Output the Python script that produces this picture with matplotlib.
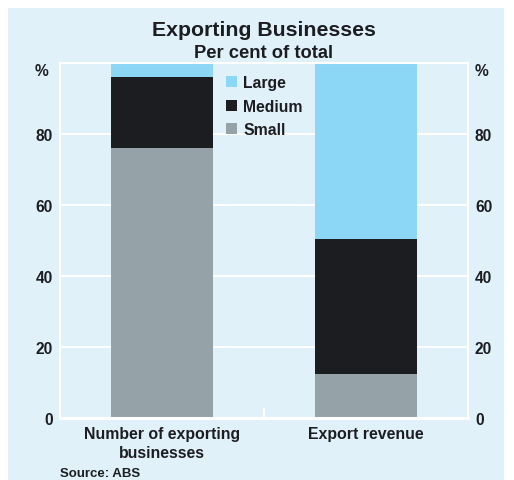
import matplotlib
matplotlib.use("Agg")
import matplotlib.pyplot as plt
from matplotlib.patches import Rectangle, Patch
import numpy as np

plt.rcParams['font.family'] = ['Liberation Sans', 'DejaVu Sans']
plt.rcParams['font.weight'] = 'bold'

categories = ["Number of exporting\nbusinesses", "Export revenue"]
small = [76, 12.5]
medium = [20, 38]
large = [4, 49.5]
yticks = [0, 20, 40, 60, 80]

BG = "#e0f1fa"
C_LARGE = "#8dd7f6"
C_MED = "#1c1d21"
C_SMALL = "#95a3a9"
TXT = "#1c1d21"

W, H = 514, 481
fig = plt.figure(figsize=(W/100, H/100), dpi=100)
fig.patch.set_facecolor("white")
fig.patches.append(Rectangle((8/W, 0), (504-8)/W, (481-9)/H, transform=fig.transFigure,
                             facecolor=BG, edgecolor="none", zorder=-10))

L, R, T, B = 60, 468, 64, 419
ax = fig.add_axes([L/W, 1-B/H, (R-L)/W, (B-T)/H])
ax.set_facecolor(BG)

x = np.arange(len(categories))
bw = 0.5
ax.bar(x, small, bw, color=C_SMALL, zorder=3, label="Small")
ax.bar(x, medium, bw, bottom=small, color=C_MED, zorder=3, label="Medium")
bot2 = [s + m for s, m in zip(small, medium)]
ax.bar(x, large, bw, bottom=bot2, color=C_LARGE, zorder=3, label="Large")

ax.set_xlim(-0.5, 1.5)
ax.set_ylim(0, 100)
ax.set_yticks(yticks)
ax.set_yticklabels([str(v) for v in yticks])
ax.yaxis.grid(True, color="white", linewidth=1.5, zorder=1)
ax.set_axisbelow(True)
ax.tick_params(axis='y', length=0, labelsize=11.2, labelcolor=TXT, pad=5,
               labelleft=True, labelright=True)
ax.set_xticks(x)
ax.set_xticklabels(categories, fontsize=11.4, color=TXT, linespacing=1.3)
ax.tick_params(axis='x', length=0, pad=6)
for s in ax.spines.values():
    s.set_color("white")
    s.set_linewidth(1.5)
    s.set_zorder(4)
ax.spines['bottom'].set_linewidth(2.2)
# small centre tick
ax.plot([0.5, 0.5], [0, 2.5], color="white", linewidth=1.5, zorder=2, clip_on=False)

# % labels
fig.text(48/W, 1-72/H, "%", ha="right", va="center", fontsize=11.2, color=TXT, fontweight="bold")
fig.text(475/W, 1-72/H, "%", ha="left", va="center", fontsize=11.2, color=TXT, fontweight="bold")

fig.text(264/W, 1-36/H, "Exporting Businesses", ha="center", va="baseline",
         fontsize=15.3, color=TXT, fontweight="bold")
fig.text(264/W, 1-58/H, "Per cent of total", ha="center", va="baseline",
         fontsize=13.2, color=TXT, fontweight="bold")
fig.text(60/W, 1-477/H, "Source: ABS", ha="left", va="baseline",
         fontsize=9.5, color=TXT, fontweight="bold")

handles = [Patch(facecolor=C_LARGE, label="Large"),
           Patch(facecolor=C_MED, label="Medium"),
           Patch(facecolor=C_SMALL, label="Small")]
leg = ax.legend(handles=handles, loc="upper left",
                bbox_to_anchor=((223-L)/(R-L), 1 - (73-T)/(B-T)),
                frameon=False, fontsize=11.3, handlelength=0.7, handleheight=0.7,
                handletextpad=0.4, labelspacing=0.55, borderaxespad=0, borderpad=0.2)
for t in leg.get_texts():
    t.set_color(TXT)
leg.set_zorder(5)

fig.savefig("out.png", dpi=100, facecolor=fig.get_facecolor())
